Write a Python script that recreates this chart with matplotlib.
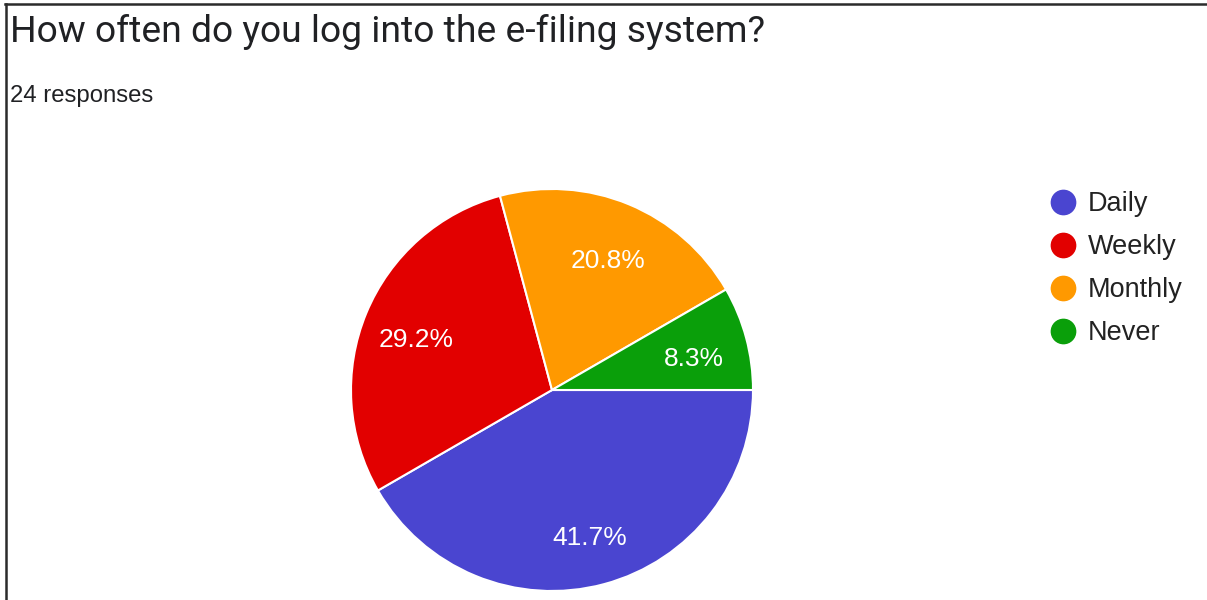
import matplotlib
matplotlib.use("Agg")
import matplotlib.pyplot as plt
from matplotlib.lines import Line2D
from matplotlib.transforms import offset_copy

# Survey answers
title = "How often do you log into the e-filing system?"
subtitle = "24 responses"
categories = ["Daily", "Weekly", "Monthly", "Never"]
counts = [10, 7, 5, 2]
colors = ["#4a45d0", "#e20000", "#ff9900", "#0a9f0a"]

W, H = 1207, 600
fig = plt.figure(figsize=(W / 100, H / 100), dpi=100)
fig.patch.set_facecolor("white")

def px(x, y):
    return x / W, 1 - y / H

# Pie axes
cx, cy, r = 552, 390, 201
ax = fig.add_axes([(cx - r) / W, (H - cy - r) / H, 2 * r / W, 2 * r / H])
wedges, texts, autotexts = ax.pie(
    counts,
    colors=colors,
    startangle=0,
    counterclock=False,
    autopct="%1.1f%%",
    pctdistance=0.73,
    radius=1,
    wedgeprops=dict(edgecolor="white", linewidth=1.5),
    textprops=dict(color="white", fontsize=19, family="Liberation Sans"),
)
label_shift = offset_copy(ax.transData, fig=fig, x=0, y=-4, units="dots")
for t in autotexts:
    t.set_verticalalignment("center_baseline")
    t.set_transform(label_shift)
ax.set_xlim(-1, 1)
ax.set_ylim(-1, 1)
ax.set_aspect("equal")
ax.axis("off")

# Title and response count
fig.text(*px(10, 42), title, fontsize=26.8, family="Roboto", color="#202124",
         ha="left", va="baseline")
fig.text(*px(10, 102), subtitle, fontsize=17.2, family="Liberation Sans",
         color="#202124", ha="left", va="baseline")

# Legend with round markers
handles = [Line2D([], [], marker="o", linestyle="", markersize=17.5,
                  markerfacecolor=c, markeredgecolor=c) for c in colors]
leg = fig.legend(handles, categories, loc="upper left",
                 bbox_to_anchor=px(1044, 191), frameon=False,
                 prop=dict(family="Liberation Sans", size=19.5),
                 labelspacing=0.63, handletextpad=0.23, handlelength=1.4,
                 borderaxespad=0, borderpad=0)
for t in leg.get_texts():
    t.set_color("#222222")

# Frame lines along the top and left edges
fig.add_artist(Line2D([5 / W, 1], [1 - 4 / H, 1 - 4 / H], transform=fig.transFigure,
                      color="#2b2b2b", linewidth=1.8))
fig.add_artist(Line2D([6 / W, 6 / W], [1 - 4 / H, 0], transform=fig.transFigure,
                      color="#2b2b2b", linewidth=1.8))

fig.savefig("out.png", dpi=100)
